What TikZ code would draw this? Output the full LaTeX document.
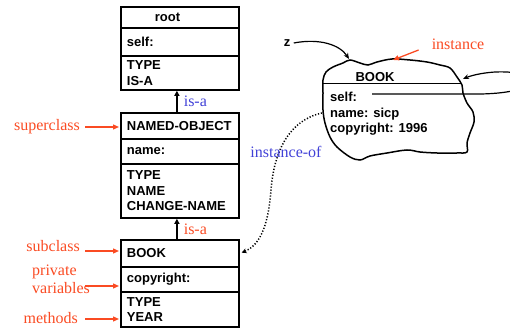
\documentclass[tikz,border=0pt]{standalone}
\usepackage{fontspec}
\setmainfont{Liberation Serif}
\setsansfont{Liberation Sans}
\usetikzlibrary{arrows.meta,positioning,calc}
\definecolor{tagred}{RGB}{250,75,35}
\definecolor{tagblue}{RGB}{65,65,215}
\newcommand{\slotfont}{\fontsize{13}{15.5}\selectfont\sffamily\bfseries}
\newcommand{\tagfont}{\fontsize{16}{18}\selectfont}

\tikzset{
  slot/.style={draw, line width=1.8pt, anchor=north west, minimum width=118pt,
    minimum height=#1, text width=106pt, inner xsep=6pt, inner ysep=1pt,
    align=left, font=\slotfont},
  tag/.style={font=\tagfont, inner sep=1pt},
  tagarrow/.style={tagred, line width=1.3pt, -{Triangle[length=6pt,width=5pt]}},
  isa/.style={line width=1.8pt, -{Triangle[length=5pt,width=5pt]}},
  pointer/.style={line width=1.2pt, -{Stealth[length=6pt,width=5pt]}},
}

\begin{document}
\begin{tikzpicture}[x=1pt,y=-1pt]
  \useasboundingbox (0,0) rectangle (510,328);

  % root class
  \node[slot=21pt] (roothdr) at (120,6) {\hspace*{28pt}root};
  \node[slot=28pt] (rootvars) at (120,27) {self:};
  \node[slot=34pt] (rootmeth) at (120,55) {TYPE\\IS-A};

  % named-object class
  \node[slot=26pt] (namedhdr) at (120,112) {NAMED-OBJECT};
  \node[slot=25pt] (namedvars) at (120,138) {name:};
  \node[slot=54pt] (namedmeth) at (120,163) {TYPE\\NAME\\CHANGE-NAME};

  % book class
  \node[slot=27pt] (bookhdr) at (120,239) {BOOK};
  \node[slot=25pt] (bookvars) at (120,266) {copyright:};
  \node[slot=35pt] (bookmeth) at (120,291) {TYPE\\YEAR};

  % is-a links
  \draw[isa] ([xshift=-3pt]namedhdr.north) -- node[tag, tagblue, right=5pt] (isaup) {is-a} ([xshift=-3pt]rootmeth.south);
  \draw[isa] ([xshift=-3pt]bookhdr.north) -- node[tag, tagred, right=5pt] (isadown) {is-a} ([xshift=-3pt]namedmeth.south);

  % left labels
  \node[tag, tagred, anchor=east] (supercls) at (81,127) {superclass};
  \draw[tagarrow, shorten >=1pt] ([xshift=4pt]supercls.east) -- (supercls.east -| namedhdr.west);
  \node[tag, tagred, anchor=east] (subcls) at (81,246) {subclass};
  \coordinate (subtail) at (85,251);
  \draw[tagarrow, shorten >=1pt] (subtail) -- (subtail -| bookhdr.west);
  \node[tag, tagred, align=left, anchor=west] (privvars) at (31,279) {private\\variables};
  \coordinate (privtail) at (85,286);
  \draw[tagarrow, shorten >=1pt] (privtail) -- (privtail -| bookvars.west);
  \node[tag, tagred, anchor=east] (meths) at (79,318) {methods};
  \coordinate (methtail) at (85,319);
  \draw[tagarrow, shorten >=1pt] (methtail) -- (methtail -| bookmeth.west);

  % the instance
  \draw[line width=1.5pt] plot[smooth cycle, tension=0.55] coordinates {
    (323,80) (326,72) (333,67) (343,63) (350,60) (360,63) (368,65) (377,62) (392,59)
    (410,60) (427,62) (440,65) (450,68) (457,77) (462,85) (463,93) (467,103) (473,112) (474,122)
    (470,133) (467,143) (467,152) (457,153) (437,153) (420,152) (407,150) (387,153) (370,156)
    (360,160) (350,157) (337,147) (330,137) (325,123) (323,110) (323,93)};
  \coordinate (divl) at (323,83);
  \coordinate (divr) at (461,83);
  \draw[line width=0.9pt] (divl) -- (divr);
  \node[font=\slotfont] (objhdr) at (375,77) {BOOK};
  \node[font=\slotfont, align=left, anchor=north west, inner sep=0pt] (objslots) at (330,92)
    {self:\\name: sicp\\copyright: 1996};

  % pointers
  \node[font=\slotfont] (zvar) at (287,43) {z};
  \coordinate (cz) at (349,59);
  \draw[pointer] (zvar.east) .. controls (320,38) and (340,45) .. (cz);

  \coordinate (selfptr) at (372,94);
  \coordinate (cr) at (463,79);
  \draw[pointer] (selfptr) -- (480,94) .. controls (545,93) and (545,70) .. (495,72)
    .. controls (480,73) and (470,76) .. (cr);

  \node[tag, tagred] (insttag) at (458,44) {instance};
  \coordinate (ci) at (393,60);
  \draw[tagarrow] ([xshift=-12pt,yshift=-6pt]insttag.west) -- (ci);

  \coordinate (cl) at (322,113);
  \draw[line width=1.5pt, dash pattern=on 1.2pt off 1.8pt, shorten >=2pt,
    -{Stealth[length=5pt,width=5pt]}] (cl)
    .. controls (290,120) and (274,150) .. (271,190)
    .. controls (268,230) and (258,246) .. (bookhdr.east);
  \node[tag, tagblue] (instof) at (286,152) {instance-of};
\end{tikzpicture}
\end{document}
